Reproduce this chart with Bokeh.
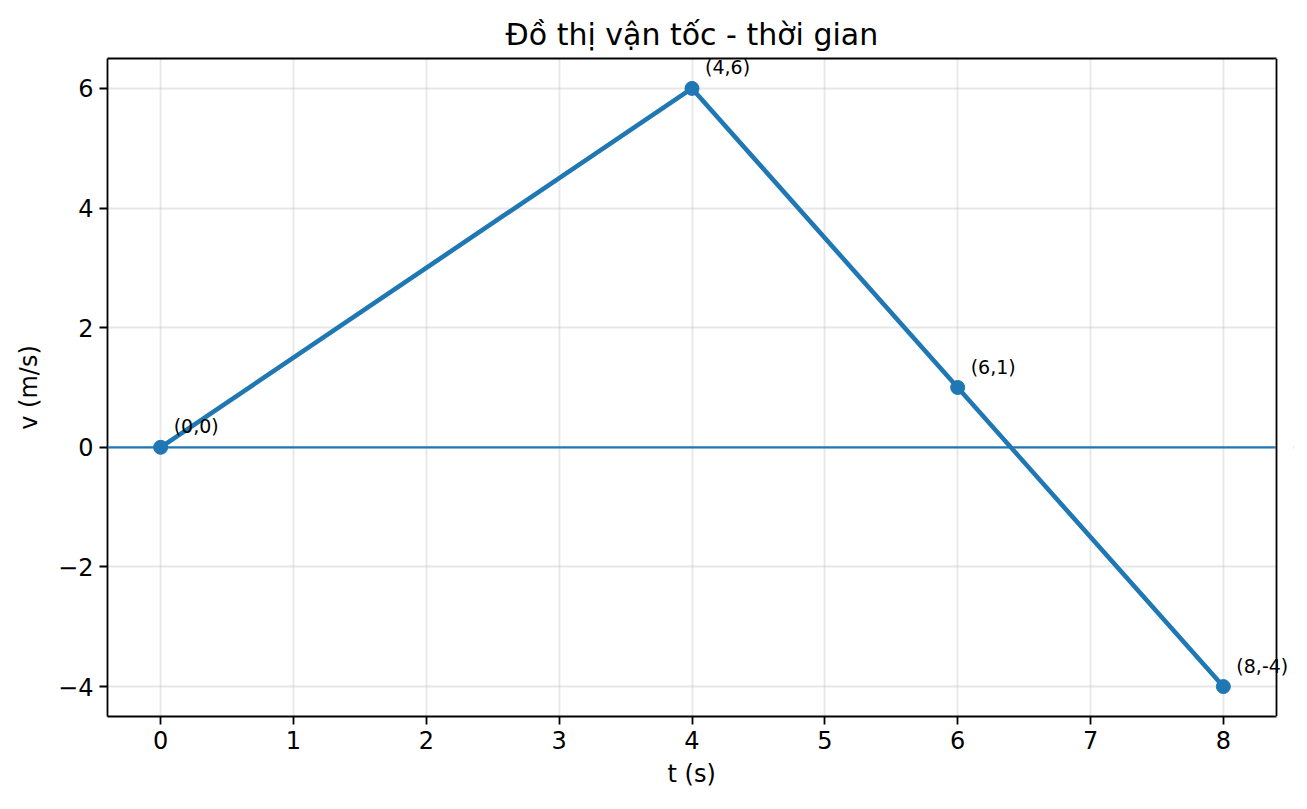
from bokeh.plotting import figure
from bokeh.models import (ColumnDataSource, LabelSet, Span, FixedTicker, CustomJSTickFormatter,
                          Range1d, BoxAnnotation, LinearAxis, Title)
from bokeh.core.properties import value
from bokeh.embed import file_html
from bokeh.resources import INLINE

# Data
t_values = [0, 4, 6, 8]
v_values = [0, 6, 1, -4]
point_labels = [f"({t},{v})" for t, v in zip(t_values, v_values)]
x_ticks = [0, 1, 2, 3, 4, 5, 6, 7, 8]
y_ticks = [-4, -2, 0, 2, 4, 6]

title_text = "Đồ thị vận tốc - thời gian"
x_label = "t (s)"
y_label = "v (m/s)"

BLUE = "#1f77b4"
FONT = "DejaVu Sans"

# axes limits (visible box) and an extra strip on the right so labels are not clipped
x_lo, x_hi = -0.4, 8.4
y_lo, y_hi = -4.5, 6.5
box_w = 1169
extra_px = 17
x_end = x_hi + extra_px * (x_hi - x_lo) / box_w

p = figure(width=1299, height=801, output_backend="svg", toolbar_location=None,
           x_range=Range1d(x_lo, x_end), y_range=Range1d(y_lo, y_hi),
           min_border_left=107, min_border_right=1299 - 107 - box_w - extra_px,
           min_border_top=58, min_border_bottom=85,
           title=title_text)

p.title.text_font = FONT
p.title.text_font_size = "30px"
p.title.text_font_style = "normal"
p.title.align = "left"
p.title.offset = 398
p.title.text_color = "black"
p.title.standoff = 14

p.outline_line_color = None
p.background_fill_color = "white"
p.border_fill_color = "white"

bottom_axis = p.below[0]
left_axis = p.left[0]

for ax in (bottom_axis, left_axis):
    ax.axis_line_color = "black"
    ax.axis_line_width = 1.8
    ax.major_tick_line_color = "black"
    ax.major_tick_line_width = 1.8
    ax.major_tick_out = 8
    ax.major_tick_in = 0
    ax.minor_tick_line_color = None
    ax.major_label_text_font = FONT
    ax.major_label_text_font_size = "24px"
    ax.major_label_text_color = "black"
    ax.axis_label_text_font = FONT
    ax.axis_label_text_font_size = "24px"
    ax.axis_label_text_font_style = "normal"
    ax.axis_label_text_color = "black"
    ax.major_label_standoff = 6
    ax.formatter = CustomJSTickFormatter(code="return tick.toString().replace('-', '\u2212');")

bottom_axis.bounds = (x_lo, x_hi)
bottom_axis.ticker = FixedTicker(ticks=x_ticks)
left_axis.ticker = FixedTicker(ticks=y_ticks)
left_axis.axis_label = y_label
left_axis.axis_label_standoff = 12

# x-axis label as a below-title so it can be centred on the visible box
x_title = Title(text=x_label, align="left", offset=560, text_font=FONT, text_font_size="24px",
                text_font_style="normal", text_color="black", standoff=13)
p.add_layout(x_title, "below")

top_axis = LinearAxis(ticker=FixedTicker(ticks=[]), major_label_text_font_size="0px",
                      axis_line_color="black", axis_line_width=1.8, bounds=(x_lo, x_hi),
                      major_tick_line_color=None, minor_tick_line_color=None)
p.add_layout(top_axis, "above")

p.xgrid.ticker = FixedTicker(ticks=x_ticks)
p.ygrid.ticker = FixedTicker(ticks=y_ticks)
p.xgrid.grid_line_color = "#b0b0b0"
p.ygrid.grid_line_color = "#b0b0b0"
p.xgrid.grid_line_alpha = 0.3
p.ygrid.grid_line_alpha = 0.3
p.xgrid.grid_line_width = 1.8
p.ygrid.grid_line_width = 1.8

zero_line = Span(location=0, dimension="width", line_color=BLUE, line_width=2.2)
p.add_layout(zero_line)

# white strip to the right of the visible box
p.add_layout(BoxAnnotation(left=x_hi, fill_color="white", fill_alpha=1.0,
                           line_color="white", line_width=4))
# right edge of the box
p.add_layout(Span(location=x_hi, dimension="height", line_color="black", line_width=1.8))

src = ColumnDataSource(data=dict(t=t_values, v=v_values, lbl=point_labels))
p.line("t", "v", source=src, line_color=BLUE, line_width=4.6)
p.scatter("t", "v", source=src, size=14, fill_color=BLUE, line_color=BLUE)

labels = LabelSet(x="t", y="v", text="lbl", source=src, x_offset=13, y_offset=14,
                  text_font=value(FONT), text_font_size=value("19px"), text_color="black",
                  text_baseline="alphabetic", text_align="left")
p.add_layout(labels)

open("out.html", "w").write(file_html(p, INLINE))
